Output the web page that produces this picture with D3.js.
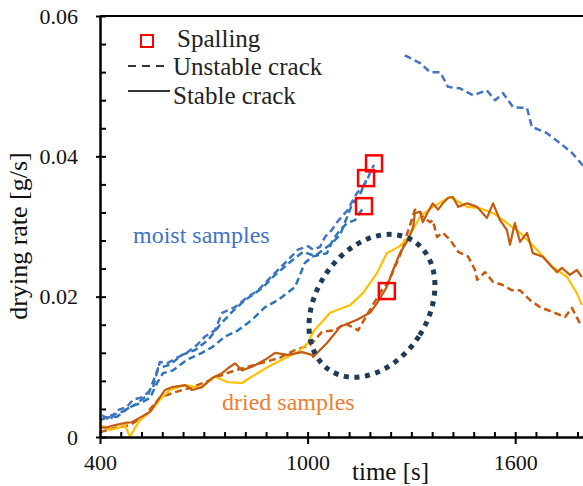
<!DOCTYPE html>
<html>
<head>
<meta charset="utf-8">
<script src="https://cdn.jsdelivr.net/npm/d3@7"></script>
<style>
  body { margin: 0; background: #fff; }
  svg text { font-family: "Liberation Serif", "Times New Roman", serif; }
</style>
</head>
<body>
<svg width="583" height="486" font-family="Liberation Serif"></svg>
<script>
// data: [time s, drying rate g/s]
var moist1 = [[406,0.0031],[429,0.0024],[449,0.0038],[478,0.0043],[495,0.0053],[524,0.0057],[553,0.0070],[573,0.0107],[594,0.0105],[623,0.0113],[651,0.0120],[680,0.0131],[703,0.0143],[732,0.0152],[753,0.0177],[790,0.0185],[828,0.0200],[857,0.0209],[886,0.0224],[914,0.0238],[943,0.0252],[972,0.0267],[1001,0.0272],[1016,0.0267],[1036,0.0271],[1050,0.0285],[1070,0.0295],[1085,0.0306],[1099,0.0314],[1117,0.0324],[1128,0.0335],[1143,0.0348],[1157,0.0355],[1172,0.0366],[1180,0.0376],[1192,0.0388]]
var moist2 = [[409,0.0027],[449,0.0029],[487,0.0043],[516,0.0048],[545,0.0056],[565,0.0077],[582,0.0091],[611,0.0095],[651,0.0110],[695,0.0120],[724,0.0128],[761,0.0143],[799,0.0152],[839,0.0167],[877,0.0185],[914,0.0195],[964,0.0214],[992,0.0248],[1013,0.0257],[1056,0.0262],[1073,0.0281],[1094,0.0295],[1114,0.0305],[1137,0.0309],[1146,0.0316],[1163,0.0328]]
var moist3 = [[400,0.0024],[435,0.0031],[464,0.0036],[501,0.0046],[539,0.0060],[568,0.0098],[602,0.0103],[637,0.0117],[675,0.0124],[712,0.0138],[747,0.0160],[781,0.0178],[819,0.0195],[868,0.0212],[906,0.0231],[949,0.0249],[987,0.0264],[1021,0.0258],[1065,0.0274],[1094,0.0288],[1108,0.0306],[1128,0.0331],[1151,0.0345],[1160,0.0356],[1169,0.0366]]
var moist4 = [[1281,0.0544],[1325,0.0533],[1354,0.0520],[1383,0.0520],[1406,0.0499],[1440,0.0497],[1478,0.0487],[1518,0.0494],[1542,0.0480],[1565,0.0490],[1594,0.0470],[1634,0.0469],[1648,0.0442],[1692,0.0433],[1729,0.0419],[1764,0.0405],[1787,0.0392],[1802,0.0383]]
var driedStable = [[400,0.0013],[423,0.0014],[443,0.0017],[472,0.0020],[492,0.0021],[521,0.0029],[545,0.0036],[568,0.0053],[588,0.0067],[608,0.0071],[646,0.0074],[666,0.0067],[695,0.0071],[724,0.0084],[753,0.0091],[770,0.0098],[790,0.0105],[810,0.0095],[839,0.0100],[877,0.0110],[906,0.0120],[943,0.0117],[984,0.0121],[1013,0.0117],[1016,0.0114],[1056,0.0134],[1094,0.0157],[1143,0.0167],[1180,0.0177],[1201,0.0191],[1229,0.0214],[1247,0.0238],[1267,0.0262],[1290,0.0281],[1305,0.0299],[1310,0.0319],[1325,0.0321],[1333,0.0306],[1348,0.0321],[1362,0.0333],[1377,0.0324],[1391,0.0333],[1406,0.0341],[1420,0.0342],[1435,0.0328],[1461,0.0333],[1490,0.0328],[1518,0.0312],[1536,0.0333],[1556,0.0309],[1576,0.0295],[1585,0.0274],[1599,0.0305],[1614,0.0278],[1634,0.0291],[1651,0.0262],[1680,0.0257],[1701,0.0245],[1721,0.0235],[1735,0.0241],[1758,0.0231],[1778,0.0238],[1793,0.0228]]
var driedYellow = [[400,0.0017],[429,0.0010],[452,0.0013],[472,0.0017],[487,0.0000],[501,0.0013],[516,0.0024],[545,0.0036],[573,0.0053],[602,0.0067],[646,0.0074],[689,0.0070],[732,0.0086],[770,0.0078],[810,0.0077],[839,0.0086],[886,0.0100],[926,0.0110],[972,0.0121],[1001,0.0134],[1016,0.0150],[1065,0.0177],[1123,0.0188],[1160,0.0205],[1201,0.0234],[1229,0.0262],[1267,0.0272],[1296,0.0288],[1325,0.0314],[1362,0.0328],[1412,0.0342],[1461,0.0328],[1498,0.0326],[1536,0.0319],[1565,0.0309],[1614,0.0291],[1663,0.0267],[1709,0.0242],[1750,0.0228],[1778,0.0205],[1793,0.0188]]
var driedUnstable = [[400,0.0007],[443,0.0013],[487,0.0017],[530,0.0031],[573,0.0056],[617,0.0064],[660,0.0070],[703,0.0078],[747,0.0087],[790,0.0095],[834,0.0101],[877,0.0107],[920,0.0113],[964,0.0124],[1007,0.0131],[1042,0.0150],[1079,0.0152],[1108,0.0162],[1146,0.0152],[1175,0.0177],[1203,0.0200],[1218,0.0212],[1232,0.0219],[1267,0.0259],[1296,0.0302],[1310,0.0324],[1325,0.0321],[1333,0.0314],[1354,0.0306],[1362,0.0309],[1374,0.0285],[1391,0.0291],[1412,0.0281],[1435,0.0264],[1464,0.0257],[1484,0.0238],[1490,0.0224],[1513,0.0235],[1536,0.0221],[1562,0.0217],[1591,0.0209],[1614,0.0209],[1643,0.0195],[1672,0.0185],[1709,0.0178],[1744,0.0171],[1764,0.0184],[1787,0.0162]]
var spalling = [[1192,0.0390],[1169,0.0369],[1163,0.0329],[1229,0.0208]]

var xMajor = [400, 1000, 1600]
var yMajor = [0, 0.02, 0.04, 0.06]

var svg = d3.select('svg')

// scales
var x = d3.scaleLinear().domain([400, 1800]).range([100, 584.4])
var y = d3.scaleLinear().domain([0, 0.06]).range([437, 16])

var line = d3.line()
  .x((d) => x(d[0]))
  .y((d) => y(d[1]))

// series: data, colour, dashed?
var series = [
  [moist3, '#2E75B6', true],
  [moist2, '#2E75B6', true],
  [moist1, '#4472C4', true],
  [moist4, '#4472C4', true],
  [driedUnstable, '#C55A11', true],
  [driedYellow, '#FFC000', false],
  [driedStable, '#C55A11', false]
]

var plot = svg.append('g')

plot.selectAll('path.series')
  .data(series)
  .enter()
  .append('path')
  .attr('class', 'series')
  .attr('d', (d) => line(d[0]))
  .style('fill', 'none')
  .style('stroke', (d) => d[1])
  .style('stroke-width', (d) => d[2] ? 2.5 : 2.2)
  .style('stroke-linejoin', 'round')
  .style('stroke-dasharray', (d) => d[2] ? '7,4' : null)

// dotted ellipse around the dried-sample cracking zone
plot.append('ellipse')
  .attr('transform', 'translate(' + x(1186) + ',' + y(0.0187) + ') rotate(33)')
  .attr('rx', 56)
  .attr('ry', 77)
  .style('fill', 'none')
  .style('stroke', '#1F3B57')
  .style('stroke-width', 5)
  .style('stroke-dasharray', '5,5.6')

// spalling markers
plot.selectAll('rect.spall')
  .data(spalling)
  .enter()
  .append('rect')
  .attr('class', 'spall')
  .attr('x', (d) => x(d[0]) - 8)
  .attr('y', (d) => y(d[1]) - 8)
  .attr('width', 16)
  .attr('height', 16)
  .style('fill', 'none')
  .style('stroke', '#FF0000')
  .style('stroke-width', 2.5)

// axes
var xMinor = d3.range(400, 1801, 60)
var yMinor = d3.range(0, 0.0601, 0.004)

svg.append('g')
  .attr('transform', 'translate(0,437)')
  .call(d3.axisTop(x).tickValues(xMinor).tickSize(5).tickSizeOuter(0).tickFormat(''))
svg.append('g')
  .attr('class', 'xmajor')
  .attr('transform', 'translate(0,437)')
  .call(d3.axisBottom(x).tickValues(xMajor).tickSize(7).tickSizeOuter(0).tickPadding(10)
    .tickFormat(d3.format('d')))

svg.append('g')
  .attr('transform', 'translate(100,0)')
  .call(d3.axisRight(y).tickValues(yMinor).tickSize(6).tickSizeOuter(0).tickFormat(''))
svg.append('g')
  .attr('class', 'ymajor')
  .attr('transform', 'translate(100,0)')
  .call(d3.axisLeft(y).tickValues(yMajor).tickSize(4).tickSizeOuter(0).tickPadding(18)
    .tickFormat((d) => d === 0 ? '0' : d.toFixed(2)))

svg.selectAll('g').attr('font-family', null)
svg.selectAll('.domain, .tick line')
  .style('stroke', '#000')
  .style('stroke-width', 2)
svg.selectAll('.xmajor text, .ymajor text')
  .style('font-family', '"Liberation Serif", serif')
  .style('font-size', '22px')
  .style('fill', '#111')

// top frame line
svg.append('line')
  .attr('x1', 100).attr('x2', 583)
  .attr('y1', y(0.06)).attr('y2', y(0.06))
  .style('stroke', '#000')
  .style('stroke-width', 2)

// axis titles
svg.append('text')
  .attr('x', 352)
  .attr('y', 480)
  .style('font-size', '25px')
  .style('fill', '#111')
  .text('time [s]')

svg.append('text')
  .attr('transform', 'translate(27,236) rotate(-90)')
  .attr('text-anchor', 'middle')
  .style('font-size', '26px')
  .style('fill', '#111')
  .text('drying rate [g/s]')

// annotations
svg.append('text')
  .attr('x', 133)
  .attr('y', 243)
  .style('font-size', '24px')
  .style('fill', '#4472C4')
  .text('moist samples')

svg.append('text')
  .attr('x', 222)
  .attr('y', 410)
  .style('font-size', '24px')
  .style('fill', '#ED7D31')
  .text('dried samples')

// legend
var legend = svg.append('g')
legend.append('rect')
  .attr('x', 141).attr('y', 35)
  .attr('width', 12).attr('height', 12)
  .style('fill', 'none')
  .style('stroke', '#FF0000')
  .style('stroke-width', 2)
legend.append('line')
  .attr('x1', 128).attr('x2', 170)
  .attr('y1', 66).attr('y2', 66)
  .style('stroke', '#333')
  .style('stroke-width', 2)
  .style('stroke-dasharray', '8,6')
legend.append('line')
  .attr('x1', 128).attr('x2', 170)
  .attr('y1', 91).attr('y2', 91)
  .style('stroke', '#333')
  .style('stroke-width', 2)

var legendText = [['Spalling', 177, 47], ['Unstable crack', 173, 75], ['Stable crack', 173, 104]]
legend.selectAll('text')
  .data(legendText)
  .enter()
  .append('text')
  .attr('x', (d) => d[1])
  .attr('y', (d) => d[2])
  .style('font-size', '25px')
  .style('fill', '#222')
  .text((d) => d[0])
</script>
</body>
</html>
